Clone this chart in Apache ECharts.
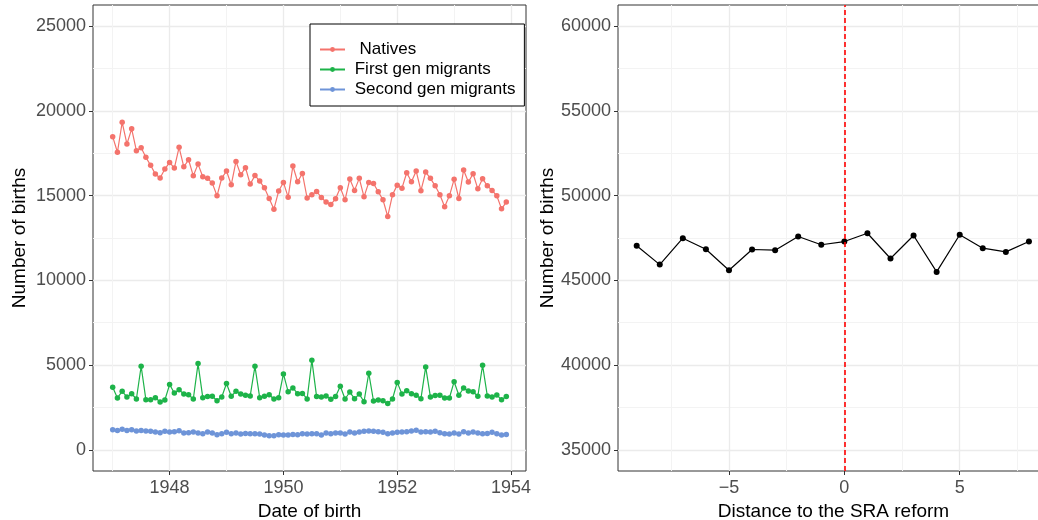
<!DOCTYPE html>
<html>
<head>
<meta charset="utf-8">
<script src="https://cdn.jsdelivr.net/npm/echarts@6/dist/echarts.min.js"></script>
<style>
html, body { margin: 0; padding: 0; background: #fff; }
#chart { width: 1038px; height: 520px; }
</style>
</head>
<body>
<div id="chart"></div>
<script>
// monthly births, Jan 1947 .. Dec 1953
var startYear = 1947;
var natives = [
    18480, 17560, 19330, 18050, 18940, 17650, 17830, 17260, 16790, 16270,
    16040, 16570, 16960, 16630, 17850, 16700, 17120, 16170, 16860, 16110,
    16020, 15740, 14990, 16040, 16450, 15640, 17020, 16230, 16650, 15680,
    16190, 15860, 15460, 14830, 14200, 15270, 15780, 14910, 16750, 15820,
    16310, 14860, 15050, 15250, 14890, 14620, 14480, 14810, 15460, 14750,
    15980, 15310, 16020, 14930, 15780, 15720, 15230, 14750, 13770, 15050,
    15620, 15440, 16350, 15820, 16450, 15290, 16390, 16020, 15580, 15050,
    14340, 14990, 15960, 14830, 16510, 15800, 16290, 15400, 16000, 15580,
    15310, 14990, 14220, 14620
];
var firstGen = [
    3690, 3060, 3450, 3120, 3310, 3000, 4930, 2960, 2960, 3080,
    2820, 2940, 3850, 3350, 3550, 3290, 3250, 3000, 5090, 3080,
    3140, 3160, 2900, 3120, 3910, 3160, 3450, 3290, 3220, 3180,
    4930, 3080, 3160, 3250, 3000, 3080, 4480, 3430, 3650, 3310,
    3330, 3000, 5290, 3140, 3120, 3180, 2980, 3140, 3750, 3000,
    3410, 3020, 3290, 2840, 4520, 2880, 2940, 2900, 2740, 3000,
    3980, 3290, 3490, 3310, 3220, 3020, 4890, 3120, 3200, 3220,
    3060, 3060, 4020, 3220, 3650, 3470, 3430, 3160, 4990, 3180,
    3120, 3230, 2960, 3140
];
var secondGen = [
    1180, 1140, 1220, 1140, 1180, 1110, 1140, 1110, 1090, 1050,
    1010, 1090, 1050, 1070, 1120, 990, 1010, 1050, 990, 950,
    1050, 990, 890, 950, 1030, 950, 990, 930, 970, 950,
    950, 930, 870, 830, 830, 890, 870, 870, 910, 890,
    950, 930, 950, 950, 870, 990, 950, 990, 990, 930,
    1050, 990, 1050, 1090, 1110, 1090, 1070, 1030, 950, 990,
    1030, 1050, 1070, 1110, 1160, 1050, 1070, 1050, 1090, 1010,
    950, 930, 990, 930, 1070, 990, 1050, 990, 950, 970,
    1030, 950, 870, 910
];

// births by distance to the reform
var distance = [-9, -8, -7, -6, -5, -4, -3, -2, -1, 0, 1, 2, 3, 4, 5, 6, 7, 8];
var totalBirths = [47040, 45930, 47490, 46840, 45600, 46820, 46780, 47590, 47100,
                   47290, 47780, 46290, 47650, 45500, 47690, 46900, 46680, 47290];

var dateTicks = [1948, 1950, 1952, 1954];
var dateMinor = [1947, 1949, 1951, 1953];
var leftTicks = [0, 5000, 10000, 15000, 20000, 25000];
var leftMinor = [2500, 7500, 12500, 17500, 22500];
var distTicks = [-5, 0, 5];
var distMinor = [-7.5, -2.5, 2.5, 7.5];
var rightTicks = [35000, 40000, 45000, 50000, 55000, 60000];
var rightMinor = [37500, 42500, 47500, 52500, 57500];

var FONT = "'Liberation Sans', Arial, sans-serif";

function dated(vals) {
    return vals.map(function (v, i) { return [startYear + i / 12, v]; });
}

function mainAxis(grid, min, max, ticks, name, gap, margin) {
    return {
        type: 'value', gridIndex: grid, min: min, max: max,
        name: name, nameLocation: 'middle', nameGap: gap,
        nameTextStyle: { color: '#000', fontSize: 19, fontFamily: FONT },
        axisLine: { show: false, onZero: false },
        axisTick: { show: true, length: 4, customValues: ticks, lineStyle: { color: '#333' } },
        axisLabel: {
            customValues: ticks, color: '#4D4D4D', fontSize: 18, fontFamily: FONT, margin: margin,
            formatter: function (v) { return String(v).replace('-', '\u2212'); }
        },
        splitLine: { show: true, lineStyle: { color: '#EBEBEB', width: 1.3 } }
    };
}
function minorAxis(grid, min, max, ticks) {
    return {
        type: 'value', gridIndex: grid, min: min, max: max,
        axisLine: { show: false, onZero: false },
        axisTick: { show: false, customValues: ticks },
        axisLabel: { show: false },
        splitLine: { show: true, lineStyle: { color: '#F3F3F3', width: 1 } }
    };
}

var myChart = echarts.init(document.getElementById('chart'));
myChart.setOption({
    animation: false,
    backgroundColor: '#fff',
    // the right panel runs past the page edge, as in the original export
    grid: [
        { left: 93, right: 512, top: 5, bottom: 49, outerBoundsMode: 'none', containLabel: false,
          show: true, borderColor: '#333', borderWidth: 1 },
        { left: 618, right: -11, top: 5, bottom: 49, outerBoundsMode: 'none', containLabel: false,
          show: true, borderColor: '#333', borderWidth: 1 }
    ],
    legend: {
        orient: 'vertical', left: 310, top: 24,
        data: [' Natives', 'First gen migrants', 'Second gen migrants'],
        formatter: function (name) { return ' ' + name; },
        itemWidth: 25, itemHeight: 6, itemGap: 3,
        padding: [17, 9, 8, 9],
        borderColor: '#000', borderWidth: 1, backgroundColor: '#fff',
        textStyle: { fontSize: 17, color: '#000', fontFamily: FONT }
    },
    xAxis: [
        mainAxis(0, 1946.654, 1954.263, dateTicks, 'Date of birth', 24, 8),
        minorAxis(0, 1946.654, 1954.263, dateMinor),
        mainAxis(1, -9.81, 8.87, distTicks, 'Distance to the SRA reform', 24, 8),
        minorAxis(1, -9.81, 8.87, distMinor)
    ],
    yAxis: [
        mainAxis(0, -1250, 26250, leftTicks, 'Number of births', 64, 7),
        minorAxis(0, -1250, 26250, leftMinor),
        mainAxis(1, 33750, 61250, rightTicks, 'Number of births', 61, 7),
        minorAxis(1, 33750, 61250, rightMinor)
    ],
    series: [
        {
            name: ' Natives', type: 'line', xAxisIndex: 0, yAxisIndex: 0,
            data: dated(natives), symbol: 'circle', symbolSize: 5.5,
            lineStyle: { color: '#F4736C', width: 1.2 }, itemStyle: { color: '#F4736C' }
        },
        {
            name: 'First gen migrants', type: 'line', xAxisIndex: 0, yAxisIndex: 0,
            data: dated(firstGen), symbol: 'circle', symbolSize: 5.5,
            lineStyle: { color: '#1DB349', width: 1.2 }, itemStyle: { color: '#1DB349' }
        },
        {
            name: 'Second gen migrants', type: 'line', xAxisIndex: 0, yAxisIndex: 0,
            data: dated(secondGen), symbol: 'circle', symbolSize: 5.5,
            lineStyle: { color: '#6E94D8', width: 1.2 }, itemStyle: { color: '#6E94D8' }
        },
        {
            name: 'Total', type: 'line', xAxisIndex: 2, yAxisIndex: 2,
            data: distance.map(function (d, i) { return [d, totalBirths[i]]; }),
            symbol: 'circle', symbolSize: 6,
            lineStyle: { color: '#000', width: 1.2 }, itemStyle: { color: '#000' },
            markLine: {
                silent: true, symbol: 'none', label: { show: false }, z: 10,
                itemStyle: { color: '#FF0000' },
                lineStyle: { color: '#FF0000', opacity: 1, type: [5, 3], width: 1.6 },
                emphasis: { disabled: true },
                data: [{ xAxis: 0 }]
            }
        }
    ]
});
</script>
</body>
</html>
